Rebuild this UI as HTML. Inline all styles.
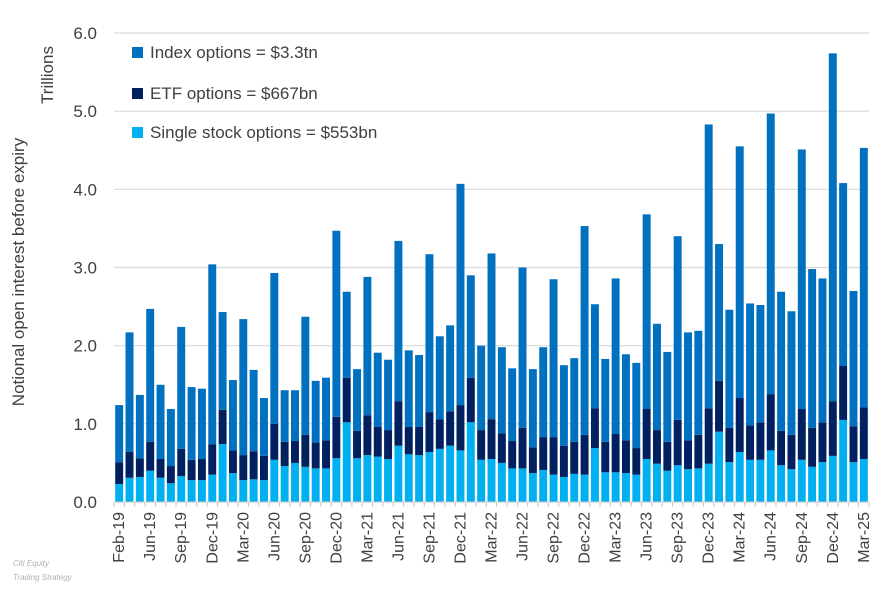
<!DOCTYPE html>
<html><head><meta charset="utf-8"><style>
body{margin:0;background:#fff;}
svg{display:block;font-family:"Liberation Sans",Arial,sans-serif;}
</style></head><body>
<svg id="chart" width="896" height="595" viewBox="0 0 896 595">
<g id="grid"></g>
<g id="bars"></g>
<g id="yticks"></g>
<g id="xticks"></g>
<text transform="translate(24,272) rotate(-90)" text-anchor="middle" font-size="17" fill="#404040">Notional open interest before expiry</text>
<text transform="translate(53,75) rotate(-90)" text-anchor="middle" font-size="17" fill="#404040">Trillions</text>
<g>
<g><rect x="132" y="47" width="11" height="11" fill="#0070c0"/><text x="150" y="58" font-size="17" fill="#404040">Index options = $3.3tn</text></g>
<g><rect x="132" y="88" width="11" height="11" fill="#002060"/><text x="150" y="99" font-size="17" fill="#404040">ETF options = $667bn</text></g>
<g><rect x="132" y="127" width="11" height="11" fill="#00b0f0"/><text x="150" y="138" font-size="17" fill="#404040">Single stock options = $553bn</text></g>
</g>
<g><text x="13" y="566" font-size="8" font-style="italic" fill="#b0b0b0">Citi Equity</text><text x="13" y="580" font-size="8" font-style="italic" fill="#b0b0b0">Trading Strategy</text></g>
</svg>
<script>
const categories=["Feb-19","Apr-19","May-19","Jun-19","Jul-19","Aug-19","Sep-19","Oct-19","Nov-19","Dec-19","Jan-20","Feb-20","Mar-20","Apr-20","May-20","Jun-20","Jul-20","Aug-20","Sep-20","Oct-20","Nov-20","Dec-20","Jan-21","Feb-21","Mar-21","Apr-21","May-21","Jun-21","Jul-21","Aug-21","Sep-21","Oct-21","Nov-21","Dec-21","Jan-22","Feb-22","Mar-22","Apr-22","May-22","Jun-22","Jul-22","Aug-22","Sep-22","Oct-22","Nov-22","Dec-22","Jan-23","Feb-23","Mar-23","Apr-23","May-23","Jun-23","Jul-23","Aug-23","Sep-23","Oct-23","Nov-23","Dec-23","Jan-24","Feb-24","Mar-24","Apr-24","May-24","Jun-24","Jul-24","Aug-24","Sep-24","Oct-24","Nov-24","Dec-24","Jan-25","Feb-25","Mar-25"];
const singleStock=[.23,.31,.32,.40,.31,.24,.33,.28,.28,.35,.74,.37,.28,.29,.28,.54,.46,.50,.45,.43,.43,.56,1.02,.56,.60,.58,.55,.72,.61,.60,.64,.68,.72,.66,1.02,.54,.55,.50,.43,.43,.37,.41,.35,.32,.36,.35,.69,.38,.38,.37,.35,.55,.49,.40,.47,.42,.43,.49,.90,.51,.64,.54,.54,.66,.47,.42,.54,.45,.51,.59,1.05,.51,.55];
const etf=[.28,.33,.24,.37,.24,.22,.35,.26,.27,.39,.44,.29,.32,.36,.31,.46,.31,.28,.41,.33,.36,.53,.57,.35,.51,.38,.37,.57,.35,.36,.51,.38,.44,.58,.57,.38,.51,.38,.35,.52,.33,.42,.48,.40,.41,.51,.51,.39,.49,.42,.34,.64,.43,.37,.58,.37,.43,.71,.65,.44,.69,.44,.48,.72,.44,.44,.65,.50,.51,.70,.69,.46,.66];
const indexOpt=[.73,1.53,.81,1.70,.95,.73,1.56,.93,.90,2.30,1.25,.90,1.74,1.04,.74,1.93,.66,.65,1.51,.79,.80,2.38,1.10,.79,1.77,.95,.90,2.05,.98,.92,2.02,1.06,1.10,2.83,1.31,1.08,2.12,1.10,.93,2.05,1.00,1.15,2.02,1.03,1.07,2.67,1.33,1.06,1.99,1.10,1.09,2.49,1.36,1.15,2.35,1.38,1.33,3.63,1.75,1.51,3.22,1.56,1.50,3.59,1.78,1.58,3.32,2.03,1.84,4.45,2.34,1.73,3.32];
const yTicks=["0.0","1.0","2.0","3.0","4.0","5.0","6.0"];

const NS="http://www.w3.org/2000/svg";
const X0=114,X1=869,Y0=502,YTOP=33,YMAX=6;
const pitch=(X1-X0)/categories.length;
function xPos(i){return X0+i*pitch;}
function yPos(v){return Y0-(v/YMAX)*(Y0-YTOP);}
function mk(tag,attrs,parent){const e=document.createElementNS(NS,tag);for(const k in attrs)e.setAttribute(k,attrs[k]);parent.appendChild(e);return e;}
const grid=document.getElementById('grid'),bars=document.getElementById('bars'),yt=document.getElementById('yticks'),xt=document.getElementById('xticks');
yTicks.forEach(function(t){
  const v=parseFloat(t),y=yPos(v);
  if(v>0){const g=mk('line',{x1:X0,x2:X1,y1:y,y2:y,stroke:'#d9d9d9','stroke-width':1.2},grid);
  
  }
  const l=mk('text',{x:97,y:y+6,'text-anchor':'end','font-size':17,fill:'#404040'},yt);
  l.textContent=t;
  
  
});
const series=[[singleStock,'#00b0f0','single-stock'],[etf,'#002060','etf'],[indexOpt,'#0070c0','index']];
categories.forEach(function(c,i){
  let base=0;const x=xPos(i)+1.2,w=pitch-2.4;
  series.forEach(function(s){
    const v=s[0][i];const yt2=yPos(base+v),yb=yPos(base);
    const r=mk('rect',{x:x,y:yt2,width:w,height:yb-yt2,fill:s[1]},bars);
    
    
    base+=v;
  });
  mk('line',{x1:xPos(i),x2:xPos(i),y1:Y0,y2:Y0+5,stroke:'#c8c8c8'},xt);
  if(i%3===0){
    const cx=xPos(i)+pitch/2+5;
    const t=mk('text',{transform:'translate('+cx+',512) rotate(-90)','text-anchor':'end','font-size':16,fill:'#404040'},xt);
    t.textContent=c;
    
    
  }
});
mk('line',{x1:X0,x2:X1,y1:Y0,y2:Y0,stroke:'#c8c8c8'},xt);
mk('line',{x1:X1,x2:X1,y1:Y0,y2:Y0+5,stroke:'#c8c8c8'},xt);
</script>
</body></html>
